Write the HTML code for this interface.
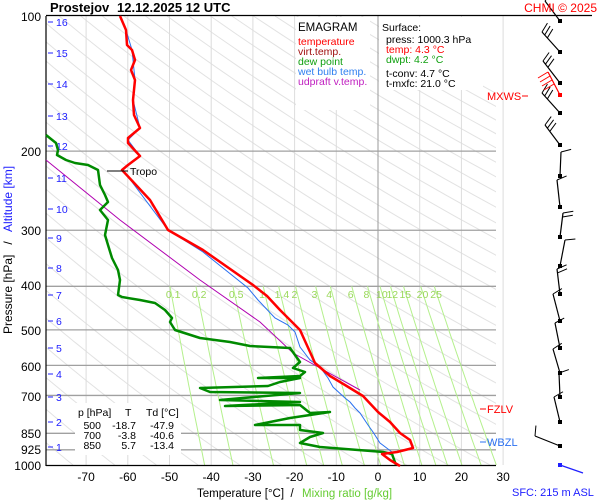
<!DOCTYPE html>
<html><head><meta charset="utf-8"><style>
html,body{margin:0;padding:0;background:#fff;}
svg{display:block;font-family:"Liberation Sans",sans-serif;}
</style></head><body>
<svg id="s" width="600" height="500" viewBox="0 0 600 500" xmlns="http://www.w3.org/2000/svg"></svg>
<script>
var S=document.getElementById('s');var h='';
function X(T){return 378+4.17*T;}
function Y(p){return 16+449*Math.log10(p/100);}
function L(a,b,c,d,st){h+='<line x1="'+a+'" y1="'+b+'" x2="'+c+'" y2="'+d+'" style="'+st+'"/>';}
function P(pts,st){h+='<polyline fill="none" points="'+pts.map(function(q){return q[0]+','+q[1]}).join(' ')+'" style="'+st+'"/>';}
function T(x,y,t,st){h+='<text x="'+x+'" y="'+y+'" style="'+st+'">'+t+'</text>';}
h+='<defs><clipPath id="c"><rect x="46" y="16" width="450" height="449"/></clipPath></defs>';
h+='<g clip-path="url(#c)">';
for(var th=180;th<=520;th+=10){var pts=[];for(var p=100;p<=1000;p+=10){var t=th*Math.pow(p/1000,0.286)-273.15;pts.push([X(t).toFixed(1),Y(p).toFixed(1)]);}P(pts,'stroke:#e2e2e2;stroke-width:1');}
h+='</g>';
for(var t=-70;t<=30;t+=10){L(X(t),16,X(t),465,t==0?'stroke:#999;stroke-width:1':'stroke:#dcdcdc;stroke-width:1');}
[200,300,400,500,600,700,850,925].forEach(function(p){L(46,Y(p),496,Y(p),'stroke:#a0a0a0;stroke-width:1.3');});
var ws=[0.1,0.2,0.5,1,1.4,2,3,4,6,8,10,12,15,20,25];
ws.forEach(function(w){var pts=[];for(var p=400;p<=1000;p+=20){var e=w*p/(622+w);var l=Math.log(e/6.112);var td=243.5*l/(17.67-l);pts.push([X(td).toFixed(1),Y(p).toFixed(1)]);}P(pts,'stroke:#b4f08c;stroke-width:1');
var e=w*400/(622+w);var l=Math.log(e/6.112);var td=243.5*l/(17.67-l);T(X(td)-4,298,w,'font-size:10.5px;fill:#9ad85a');});
L(46,15.5,592,15.5,'stroke:#000;stroke-width:1.2');
L(46,16,46,466,'stroke:#000;stroke-width:1.2');
L(46,465.5,496,465.5,'stroke:#000;stroke-width:1.2');
var km=[[16,22],[15,53],[14,84],[13,116],[12,146],[11,178],[10,209],[9,238],[8,268],[7,295],[6,321],[5,348],[4,374],[3,397],[2,422],[1,447]];
km.forEach(function(k){L(48,k[1],53,k[1],'stroke:#2020ff;stroke-width:1');T(56,k[1]+4,k[0],'font-size:10.5px;fill:#2020ff');});
[[100,16],[200,151],[300,230],[400,285],[500,330],[600,366],[700,396],[850,433],[925,449],[1000,465]].forEach(function(a){T(41,a[1]+5,a[0],'font-size:12px;text-anchor:end;fill:#000');});
for(var t=-70;t<=30;t+=10){T(X(t),481,t==0?'0':t,'font-size:12px;text-anchor:middle');}
P([[46,160],[120,220],[200,280],[260,322],[293,353],[320,368],[360,390]],'stroke:#b000b0;stroke-width:1');
P([[120,16],[126,30],[132,50],[135,80],[133,100],[140,128],[128,140],[140,156],[123,170],[168,230],[203,252],[248,288],[258,300],[275,318],[288,325],[295,332],[300,347],[310,360],[320,367],[328,378],[333,387],[345,398],[350,402],[355,408],[360,413],[368,425],[373,432],[380,443],[392,452],[396,465]],'stroke:#2a70f0;stroke-width:1');
P([[46,135],[56,143],[58,150],[57,155],[66,160],[75,163],[88,165],[98,170],[100,185],[105,195],[108,202],[100,210],[108,220],[105,235],[108,245],[112,258],[118,270],[120,280],[118,295],[122,297],[140,300],[155,303],[165,310],[172,318],[170,322],[175,330],[200,338],[230,342],[250,346],[290,348],[295,355],[300,362],[293,368],[305,372],[300,376],[258,378],[300,378],[280,382],[268,386],[200,388],[210,392],[300,393],[220,400],[300,402],[225,406],[300,405],[310,413],[330,412],[290,418],[255,425],[300,425],[300,430],[323,433],[310,437],[300,443],[320,447],[383,452],[392,454],[396,465]],'stroke:#008a00;stroke-width:2.5;stroke-linejoin:round');
P([[120,16],[126,30],[127,45],[132,50],[135,60],[131,70],[135,80],[133,100],[134,115],[140,128],[128,138],[128,143],[140,156],[128,165],[122,170],[150,200],[168,230],[203,250],[253,285],[267,296],[280,310],[300,330],[315,363],[330,376],[345,385],[363,396],[378,412],[390,422],[400,433],[410,440],[413,448],[397,452],[382,454],[390,460],[400,466]],'stroke:#ff0000;stroke-width:2.5;stroke-linejoin:round');
L(107,171,128,171,'stroke:#000;stroke-width:1');T(130,175,'Tropo','font-size:10.5px');
h+='<rect x="296" y="17" width="74" height="93" fill="#fff"/>';
T(298,31,'EMAGRAM','font-size:11.5px');
T(298,45,'temperature','font-size:10.5px;fill:#ff0000');
T(298,55,'virt.temp.','font-size:10.5px;fill:#a01010');
T(298,65,'dew point','font-size:10.5px;fill:#10a010');
T(298,75,'wet bulb temp.','font-size:10.5px;fill:#3080f0');
T(298,85,'udpraft v.temp.','font-size:10.5px;fill:#c020c0');
h+='<rect x="379" y="17" width="104" height="73" fill="#fff"/>';
T(382,31,'Surface:','font-size:10.5px');
T(386,43,'press: 1000.3 hPa','font-size:10.5px');
T(386,53,'temp: 4.3 °C','font-size:10.5px;fill:#ff0000');
T(386,63,'dwpt: 4.2 °C','font-size:10.5px;fill:#10a010');
T(386,77,'t-conv: 4.7 °C','font-size:10.5px');
T(386,87,'t-mxfc: 21.0 °C','font-size:10.5px');
h+='<rect x="75" y="403" width="106" height="52" fill="#fff"/>';
T(78,416,'p [hPa]','font-size:10.5px');T(125,416,'T','font-size:10.5px');T(146,416,'Td [°C]','font-size:10.5px');
[['500','-18.7','-47.9',429],['700','-3.8','-40.6',439],['850','5.7','-13.4',449]].forEach(function(r){T(101,r[3],r[0],'font-size:10.5px;text-anchor:end');T(136,r[3],r[1],'font-size:10.5px;text-anchor:end');T(174,r[3],r[2],'font-size:10.5px;text-anchor:end');});
L(480,409,486,409,'stroke:#ff0000');T(487,413,'FZLV','font-size:11px;fill:#ff0000');
L(480,442,486,442,'stroke:#2a70f0');T(487,446,'WBZL','font-size:11px;fill:#2a70f0');
T(487,100,'MXWS','font-size:11px;fill:#ff0000');L(522,96,528,96,'stroke:#ff0000');
var wb=[[21,-15,-20,1],[52,-18,-20,3],[83,-17,-22,3],[113,-18,-20,3],[145,-15,-20,3],[176,1,-24,1],[207,-3,-27,1],[237,3,-24,2],[266,5,-26,1],[294,-3,-25,2],[321,-7,-27,1],[348,-5,-25,1],[373,-7,-24,1],[397,-1,-24,1],[422,-6,-25,1],[446,-25,-10,1]];
wb.forEach(function(b){var x0=560,y0=b[0],x1=x0+b[1],y1=y0+b[2];L(x0,y0,x1,y1,'stroke:#000;stroke-width:1.2');h+='<rect x="'+(x0-2)+'" y="'+(y0-2)+'" width="4" height="4" fill="#000"/>';
var len=Math.hypot(b[1],b[2]),ux=b[1]/len,uy=b[2]/len;for(var i=0;i<b[3];i++){var bx=x1-ux*i*4,by=y1-uy*i*4;L(bx,by,bx-uy*10+ux*3,by+ux*10+uy*3,'stroke:#000;stroke-width:1');}});
L(560,95,548,72,'stroke:#ff0000;stroke-width:1.2');h+='<rect x="558" y="93" width="4" height="4" fill="#ff0000"/>';
for(var i=0;i<4;i++){L(548+i*2,72+i*4,538+i*2,78+i*4,'stroke:#ff0000;stroke-width:1');}
L(560,465,583,473,'stroke:#2020ff;stroke-width:1.2');h+='<rect x="558" y="463" width="4" height="4" fill="#2020ff"/>';
T(50,12,'Prostejov','font-size:13px;font-weight:bold');
T(117,12,'12.12.2025 12 UTC','font-size:13px;font-weight:bold');
T(597,12,'CHMI © 2025','font-size:12px;fill:#ff0000;text-anchor:end');
T(197,497,'Temperature [°C]  /','font-size:11.5px;white-space:pre');
T(302,497,'Mixing ratio [g/kg]','font-size:11.5px;fill:#66cc33');
T(512,496,'SFC: 215 m ASL','font-size:11px;fill:#2020ff');
h+='<text transform="translate(12,334) rotate(-90)" style="font-size:12px;white-space:pre"><tspan>Pressure [hPa]   /   </tspan><tspan fill="#2020ff">Altitude [km]</tspan></text>';
S.innerHTML=h;
</script>
</body></html>
